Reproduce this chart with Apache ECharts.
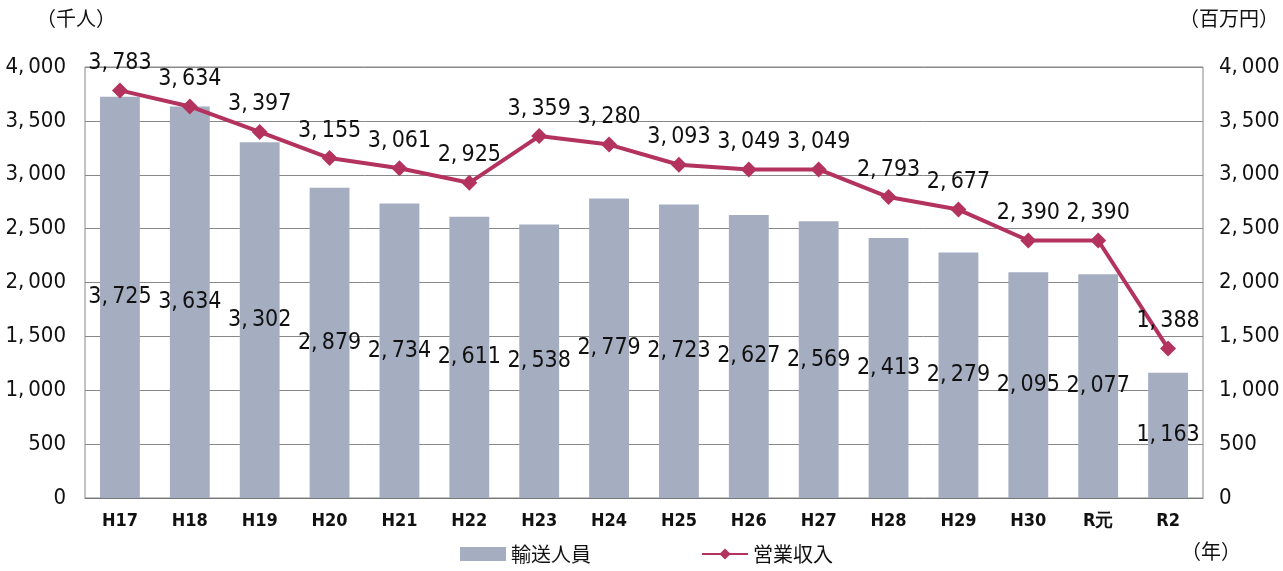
<!DOCTYPE html>
<html>
<head>
<meta charset="utf-8">
<script src="https://cdn.jsdelivr.net/npm/echarts@6/dist/echarts.min.js"></script>
<style>
  html, body { margin: 0; padding: 0; background: #fff; }
  #main { width: 1283px; height: 571px; }
</style>
</head>
<body>
<div id="main"></div>
<script>
  // 年度
  var years = ["H17", "H18", "H19", "H20", "H21", "H22", "H23", "H24", "H25", "H26", "H27", "H28", "H29", "H30", "R元", "R2"];
  // 輸送人員（千人）
  var passengers = [3725, 3634, 3302, 2879, 2734, 2611, 2538, 2779, 2723, 2627, 2569, 2413, 2279, 2095, 2077, 1163];
  // 営業収入（百万円）
  var revenue = [3783, 3634, 3397, 3155, 3061, 2925, 3359, 3280, 3093, 3049, 3049, 2793, 2677, 2390, 2390, 1388];

  var FONT = "'DejaVu Sans Condensed', 'Liberation Sans Narrow', sans-serif";
  var JP = "'Noto Sans CJK JP', sans-serif";

  function fmt(v) {
    return String(v).replace(/\B(?=(\d{3})+(?!\d))/g, ",\u2009");
  }

  var chart = echarts.init(document.getElementById("main"));

  var option = {
    animation: false,
    textStyle: { fontFamily: FONT, color: "#111" },
    grid: { left: 85, right: 80, top: 67, bottom: 73, show: true, borderColor: "#888", borderWidth: 1 },
    legend: {
      bottom: 2,
      left: 455,
      itemGap: 110,
      itemWidth: 46,
      itemHeight: 14,
      textStyle: { fontSize: 20, fontFamily: JP, color: "#111" },
      data: [
        { name: "輸送人員", icon: "rect" },
        { name: "営業収入" }
      ]
    },
    xAxis: {
      type: "category",
      data: years,
      axisLine: { lineStyle: { color: "#777" } },
      axisTick: { inside: true, length: 6, lineStyle: { color: "#777" } },
      axisLabel: { fontSize: 18, fontWeight: "bold", color: "#111", margin: 14, fontFamily: FONT }
    },
    yAxis: [
      {
        type: "value",
        min: 0, max: 4000, interval: 500,
        axisLine: { show: false },
        axisTick: { show: false },
        splitLine: { lineStyle: { color: "#888" } },
        axisLabel: { fontSize: 22, color: "#111", margin: 19, formatter: fmt, fontFamily: FONT }
      },
      {
        type: "value",
        min: 0, max: 4000, interval: 500,
        axisLine: { show: false },
        axisTick: { show: false },
        splitLine: { show: false },
        axisLabel: { fontSize: 22, color: "#111", margin: 16, formatter: fmt, fontFamily: FONT }
      }
    ],
    graphic: [
      { type: "text", left: 36, top: 8, style: { text: "（千人）", fontSize: 20, fontFamily: JP, fill: "#111" } },
      { type: "text", right: 4, top: 8, style: { text: "（百万円）", fontSize: 20, fontFamily: JP, fill: "#111" } },
      { type: "text", right: 42, bottom: 10, style: { text: "（年）", fontSize: 20, fontFamily: JP, fill: "#111" } }
    ],
    series: [
      {
        name: "輸送人員",
        type: "bar",
        data: passengers,
        barWidth: "57%",
        itemStyle: { color: "#a5adc1" },
        label: {
          show: true,
          position: "inside",
          color: "#111",
          fontSize: 23,
          fontFamily: FONT,
          formatter: function (p) { return fmt(p.value); }
        }
      },
      {
        name: "営業収入",
        type: "line",
        yAxisIndex: 1,
        data: revenue,
        symbol: "diamond",
        symbolSize: 16,
        lineStyle: { color: "#b3335e", width: 4 },
        itemStyle: { color: "#b3335e" },
        label: {
          show: true,
          position: "top",
          distance: 8,
          color: "#111",
          fontSize: 23,
          fontFamily: FONT,
          formatter: function (p) { return fmt(p.value); }
        }
      }
    ]
  };

  chart.setOption(option);
</script>
</body>
</html>
